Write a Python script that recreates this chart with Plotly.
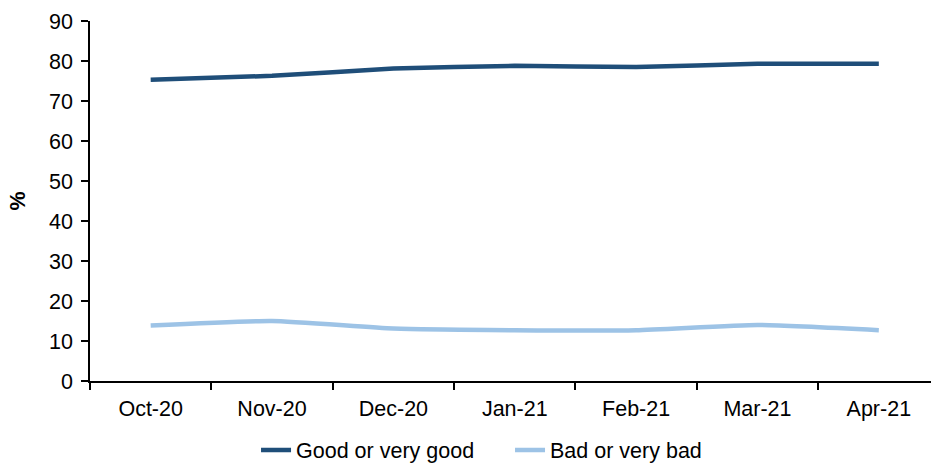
import plotly.graph_objects as go

months = ["Oct-20", "Nov-20", "Dec-20", "Jan-21", "Feb-21", "Mar-21", "Apr-21"]
good = [75.3, 76.3, 78.1, 78.8, 78.5, 79.3, 79.3]
bad = [13.9, 15.0, 13.1, 12.7, 12.7, 14.0, 12.7]

DARK = "#1F4E79"
LIGHT = "#9DC3E6"
FONT = "Liberation Sans, Arial, sans-serif"
FS = 21.5

fig = go.Figure()
fig.add_trace(go.Scatter(x=months, y=good, name="Good or very good", mode="lines",
                         line=dict(color=DARK, width=4.5, shape="spline", smoothing=0.5)))
fig.add_trace(go.Scatter(x=months, y=bad, name="Bad or very bad", mode="lines",
                         line=dict(color=LIGHT, width=4.5, shape="spline", smoothing=0.5)))

fig.update_layout(
    width=931, height=464,
    margin=dict(l=90, r=0, t=21, b=83),
    paper_bgcolor="white", plot_bgcolor="white",
    font=dict(family=FONT, size=FS, color="black"),
    showlegend=True,
    legend=dict(orientation="h", xref="container", yref="container",
                x=0.2750, xanchor="left", y=0.030, yanchor="middle",
                font=dict(size=FS), entrywidth=209, entrywidthmode="pixels", tracegroupgap=0),
)
fig.update_xaxes(
    type="category", range=[-0.5, 6.43], automargin=False,
    showline=True, linecolor="black", linewidth=1.5,
    ticks="outside", tickson="boundaries", ticklen=7, tickcolor="black", tickwidth=1.5,
    ticklabelstandoff=7,
    showgrid=False, zeroline=False,
    tickfont=dict(size=FS),
)
fig.update_yaxes(
    range=[0, 90], dtick=10, automargin=False,
    showline=True, linecolor="black", linewidth=1.5,
    ticks="outside", ticklen=7, tickcolor="black", tickwidth=1.5,
    ticklabelstandoff=4,
    showgrid=False, zeroline=False,
    tickfont=dict(size=FS),
    title=dict(text="<b>%</b>", font=dict(size=FS), standoff=18),
)

fig.write_html("out.html", config={"displayModeBar": False},
               post_script="document.body.style.margin='0';document.body.style.overflow='hidden';")
